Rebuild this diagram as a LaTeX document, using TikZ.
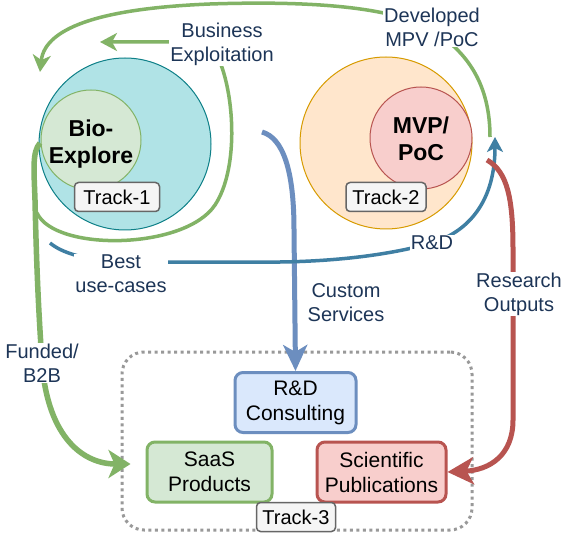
\documentclass[tikz,border=0pt]{standalone}
\usepackage{fontspec}
\setmainfont{Liberation Sans}
\usetikzlibrary{arrows.meta,calc}
\definecolor{tealf}{HTML}{B0E3E6}
\definecolor{tealb}{HTML}{0E8088}
\definecolor{grnf}{HTML}{D5E8D4}
\definecolor{grnb}{HTML}{82B366}
\definecolor{orgf}{HTML}{FFE6CC}
\definecolor{orgb}{HTML}{D79B00}
\definecolor{redf}{HTML}{F8CECC}
\definecolor{redb}{HTML}{B85450}
\definecolor{bluf}{HTML}{DAE8FC}
\definecolor{blub}{HTML}{6C8EBF}
\definecolor{trkf}{HTML}{F5F5F5}
\definecolor{trkb}{HTML}{666666}
\definecolor{rdc}{HTML}{3F7FA3}
\definecolor{lblc}{HTML}{1D3557}
\definecolor{dotc}{HTML}{999999}
\begin{document}
\begin{tikzpicture}[x=1pt,y=-1pt,
  lbl/.style={text=lblc, font=\fontsize{20}{24}\selectfont, align=center, inner sep=1pt, fill=white},
  trk/.style={draw=trkb, fill=trkf, line width=1.5pt, rounded corners=4pt, font=\fontsize{20}{24}\selectfont, minimum height=29pt, inner sep=0pt},
  boxst/.style={rounded corners=8pt, line width=3pt, font=\fontsize{21}{25}\selectfont, align=center, inner sep=0pt, minimum height=60pt},
  circ/.style={circle, inner sep=0pt, line width=1pt},
  big/.style={font=\fontsize{23}{27}\selectfont\bfseries, align=center, inner sep=0pt},
  garrow/.style={draw=grnb, line width=3.5pt, -{Stealth[length=17pt,width=18pt,inset=5pt]}},
  fatgreen/.style={draw=grnb, line width=5.5pt, -{Stealth[length=22pt,width=28pt,inset=6pt]}},
  barrow/.style={draw=blub, line width=5pt, -{Stealth[length=26pt,width=24pt,inset=7pt]}},
  darrow/.style={draw=rdc, line width=3.5pt, -{Stealth[length=15pt,width=16pt,inset=4pt]}},
  rarrow/.style={draw=redb, line width=5pt, -{Stealth[length=26pt,width=27pt,inset=7pt]}}
]
\useasboundingbox (0,0) rectangle (569,534);
\fill[white] (0,0) rectangle (569,534);

% Track-3 container
\node[draw=dotc, line width=3pt, dash pattern=on 3pt off 3.5pt, rounded corners=22pt,
      minimum width=350pt, minimum height=178pt] (cont) at (297,441) {};

% circles
\node[circ, fill=tealf, draw=tealb, minimum size=172pt] (c1) at (125,144) {};
\node[circ, fill=grnf, draw=grnb, minimum size=100pt] (c1i) at (91,140) {};
\node[big] (bio) at (91,144) {Bio-\\Explore};
\node[trk, minimum width=85pt] (t1) at (117,197) {Track-1};

\node[circ, fill=orgf, draw=orgb, minimum size=172pt] (c2) at (386,143) {};
\node[circ, fill=redf, draw=redb, minimum size=102pt] (c2i) at (421,138) {};
\node[big] (mvp) at (421,139) {MVP/\\PoC};
\node[trk, minimum width=80pt] (t2) at (386,197) {Track-2};

% boxes
\node[boxst, draw=blub, fill=bluf, minimum width=121pt] (rdc) at (295.5,402.5) {R\&D\\Consulting};
\node[boxst, draw=grnb, fill=grnf, minimum width=125pt] (saas) at (209.5,472) {SaaS\\Products};
\node[boxst, draw=redb, fill=redf, minimum width=129pt] (sci) at (381.5,472) {Scientific\\Publications};
\node[trk, minimum width=79pt] (t3) at (296,517) {Track-3};

% coordinates
\coordinate (gS) at (490,137);
\coordinate (gE) at (40,72);
\coordinate (bS) at (37,213);
\coordinate (bE) at (100,42);
\coordinate (fS) at (40,143);
\coordinate (cS) at (262,132);
\coordinate (rS) at (50,243);
\coordinate (rE) at (495,137);
\coordinate (oS) at (487,160);

% arrows
\draw[garrow] (gS) .. controls (490,85) and (468,52) .. (432,30)
   .. controls (390,5) and (300,1) .. (210,4)
   .. controls (110,8) and (45,25) .. (gE);
\draw[garrow] (bS) .. controls (55,252) and (185,250) .. (215,205)
   .. controls (238,170) and (235,100) .. (220,62) -- (220,42) -- (bE);
\draw[fatgreen] (fS) .. controls (32,152) and (34,170) .. (35,200)
   .. controls (37,290) and (40,330) .. (42,363)
   .. controls (48,440) and (85,464) .. ($(saas.west)+(-15,-8)$);
\draw[barrow] (cS) .. controls (283,138) and (294,170) .. (294,230) -- (rdc.north);
\draw[darrow] (rS) .. controls (62,253) and (85,260) .. (121,262) -- (280,262)
   .. controls (350,261) and (400,252) .. (432,243)
   .. controls (470,231) and (495,200) .. (rE);
\draw[rarrow] (oS) .. controls (508,172) and (513,200) .. (513,250) -- (513,420)
   .. controls (513,455) and (490,470) .. (sci.east);

% labels
\node[lbl] (ldev) at (432,27) {Developed\\MPV /PoC};
\node[lbl] (lbus) at (222,44) {Business\\Exploitation};
\node[lbl] (lbest) at (121,274) {Best\\use-cases};
\node[lbl] (lrd) at (432,243) {R\&D};
\node[lbl] (lcus) at (346,303) {Custom\\Services};
\node[lbl] (lres) at (519,294) {Research\\Outputs};
\node[lbl] (lfun) at (42,363) {Funded/\\B2B};
\end{tikzpicture}
\end{document}
